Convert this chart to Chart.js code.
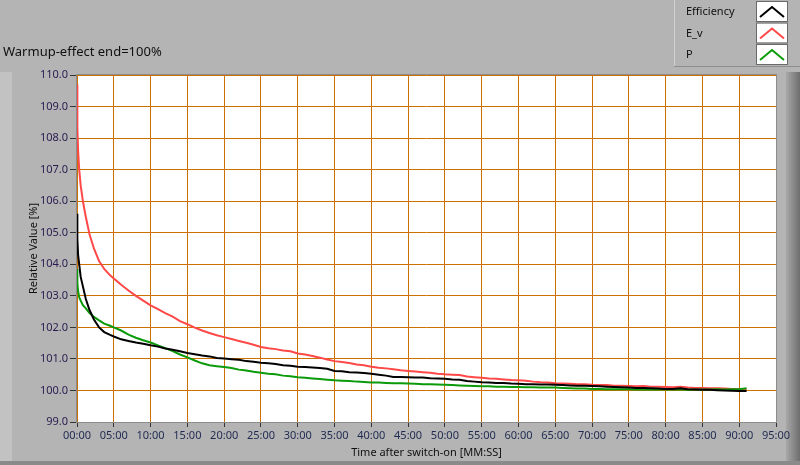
<!DOCTYPE html>
<html>
<head>
<meta charset="utf-8">
<script src="https://cdn.jsdelivr.net/npm/chart.js@4/dist/chart.umd.min.js"></script>
<style>
  html, body { margin: 0; padding: 0; background: #b4b4b4; }
  #wrap { width: 800px; height: 465px; }
</style>
</head>
<body>
<div id="wrap"><canvas id="warmup-chart" width="800" height="465"></canvas></div>
<script>
// time after switch-on, minutes
var minutes = [0, 0.05, 0.15, 0.3, 0.5, 0.8, 1.2, 1.7, 2.3, 3, 3.7, 4.5,
  5, 6, 7, 8, 9, 10, 11, 12, 13, 14, 15, 16, 17, 18, 19, 20, 21, 22, 23, 24,
  25, 26, 27, 28, 29, 30, 31, 32, 33, 34, 35, 36, 37, 38, 39, 40, 41, 42, 43, 44,
  45, 46, 47, 48, 49, 50, 51, 52, 53, 54, 55, 56, 57, 58, 59, 60, 61, 62, 63, 64,
  65, 66, 67, 68, 69, 70, 71, 72, 73, 74, 75, 76, 77, 78, 79, 80, 81, 82, 83, 84,
  85, 86, 87, 88, 89, 90, 91];

var efficiency = [105.6, 104.8, 104.3, 104.0, 103.6, 103.3, 102.9, 102.55, 102.25, 102.0, 101.85, 101.76,
  101.71, 101.62, 101.57, 101.52, 101.48, 101.43, 101.39, 101.33, 101.29, 101.24, 101.19, 101.15, 101.11, 101.08, 101.03, 101.01, 100.99, 100.97, 100.93, 100.91,
  100.88, 100.86, 100.84, 100.80, 100.78, 100.75, 100.74, 100.73, 100.71, 100.69, 100.62, 100.61, 100.58, 100.57, 100.55, 100.53, 100.50, 100.47, 100.43, 100.43,
  100.42, 100.41, 100.41, 100.39, 100.38, 100.37, 100.35, 100.34, 100.30, 100.28, 100.26, 100.25, 100.24, 100.24, 100.22, 100.21, 100.20, 100.20, 100.19, 100.19,
  100.18, 100.17, 100.16, 100.15, 100.15, 100.14, 100.13, 100.12, 100.11, 100.10, 100.09, 100.08, 100.08, 100.07, 100.06, 100.05, 100.05, 100.07, 100.04, 100.03,
  100.02, 100.02, 100.01, 100.00, 99.99, 99.98, 99.98];

var e_v = [109.7, 108.3, 107.6, 107.0, 106.5, 106.0, 105.5, 104.95, 104.5, 104.1, 103.85, 103.65,
  103.55, 103.35, 103.17, 103.0, 102.85, 102.7, 102.58, 102.45, 102.34, 102.2, 102.1, 101.99, 101.9, 101.82, 101.75, 101.69, 101.63, 101.57, 101.51, 101.45,
  101.38, 101.34, 101.31, 101.27, 101.24, 101.17, 101.14, 101.09, 101.04, 100.98, 100.93, 100.90, 100.87, 100.82, 100.80, 100.75, 100.72, 100.70, 100.67, 100.64,
  100.62, 100.60, 100.58, 100.56, 100.53, 100.51, 100.50, 100.49, 100.44, 100.42, 100.40, 100.38, 100.37, 100.35, 100.33, 100.32, 100.31, 100.28, 100.26, 100.25,
  100.23, 100.22, 100.21, 100.20, 100.20, 100.18, 100.17, 100.17, 100.15, 100.15, 100.14, 100.13, 100.14, 100.12, 100.12, 100.11, 100.10, 100.12, 100.09, 100.08,
  100.08, 100.07, 100.07, 100.06, 100.05, 100.05, 100.05];

var p = [103.85, 103.4, 103.15, 102.95, 102.85, 102.7, 102.6, 102.45, 102.33, 102.22, 102.12, 102.05,
  102.0, 101.9, 101.77, 101.67, 101.59, 101.52, 101.43, 101.34, 101.25, 101.14, 101.05, 100.95, 100.86, 100.80, 100.77, 100.74, 100.71, 100.66, 100.63, 100.59,
  100.56, 100.53, 100.51, 100.47, 100.45, 100.42, 100.40, 100.38, 100.36, 100.34, 100.32, 100.31, 100.30, 100.28, 100.27, 100.25, 100.25, 100.24, 100.23, 100.23,
  100.22, 100.21, 100.20, 100.20, 100.19, 100.18, 100.17, 100.16, 100.15, 100.14, 100.13, 100.13, 100.12, 100.12, 100.11, 100.11, 100.10, 100.10, 100.09, 100.09,
  100.09, 100.08, 100.07, 100.06, 100.06, 100.05, 100.05, 100.04, 100.04, 100.04, 100.04, 100.03, 100.03, 100.03, 100.04, 100.03, 100.03, 100.03, 100.02, 100.03,
  100.03, 100.03, 100.04, 100.03, 100.04, 100.04, 100.07];

var seriesNames = ['Efficiency', 'E_v', 'P'];
var seriesColors = ['#000000', '#ff4848', '#0a9a0a'];
var titleText = 'Warmup-effect end=100%';

function pts(vals) {
  return vals.map(function (v, i) { return { x: minutes[i], y: v }; });
}

function mmss(m) {
  var mm = Math.floor(m);
  var ss = Math.round((m - mm) * 60);
  return String(mm).padStart(2, '0') + ':' + String(ss).padStart(2, '0');
}

var FONT = '"Noto Sans", "Open Sans", sans-serif';
var GRID = '#cc7000';

// LabVIEW-ish panel: grey frame, white plot, title and boxed legend
var panel = {
  id: 'panel',
  beforeDraw: function (chart) {
    var c = chart.ctx, a = chart.chartArea;
    c.save();
    c.fillStyle = '#b4b4b4';
    c.fillRect(0, 0, 800, 465);
    c.fillStyle = '#c2c2c2';
    c.fillRect(0, 72, 12, 393);
    var g = c.createLinearGradient(786, 0, 800, 0);
    g.addColorStop(0, '#a8a8a8');
    g.addColorStop(1, '#6e6e6e');
    c.fillStyle = g;
    c.fillRect(786, 72, 14, 393);
    c.fillStyle = '#8a8a8a';
    c.fillRect(0, 461, 800, 4);
    c.fillStyle = '#ffffff';
    c.fillRect(a.left, a.top, a.right - a.left, a.bottom - a.top);
    c.restore();
  },
  afterDraw: function (chart) {
    var c = chart.ctx, a = chart.chartArea;
    c.save();
    c.strokeStyle = '#8c8c8c';
    c.lineWidth = 1;
    c.strokeRect(a.left - 0.5, a.top - 0.5, a.right - a.left + 1, a.bottom - a.top + 1);

    c.fillStyle = '#101010';
    c.font = '13px ' + FONT;
    c.textBaseline = 'middle';
    c.fillText(titleText, 3, 52);

    // legend box
    c.strokeStyle = '#d2d2d2';
    c.beginPath(); c.moveTo(674.5, 0); c.lineTo(674.5, 66); c.stroke();
    c.strokeStyle = '#8e8e8e';
    c.beginPath(); c.moveTo(674, 66.5); c.lineTo(800, 66.5); c.stroke();
    c.font = '11px ' + FONT;
    seriesNames.forEach(function (name, i) {
      var y = 12 + i * 21.5;
      c.fillStyle = '#101010';
      c.fillText(name, 686, y);
      c.fillStyle = '#ffffff';
      c.fillRect(757, y - 10, 30, 19);
      c.strokeStyle = '#6a6a6a';
      c.strokeRect(756.5, y - 10.5, 31, 20);
      c.strokeStyle = seriesColors[i];
      c.lineWidth = 2;
      c.beginPath();
      c.moveTo(760, y + 5); c.lineTo(772, y - 5); c.lineTo(784, y + 5);
      c.stroke();
      c.lineWidth = 1;
    });
    c.restore();
  }
};

var ctx = document.getElementById('warmup-chart').getContext('2d');
var chart = new Chart(ctx, {
  type: 'line',
  data: {
    datasets: [
      { label: seriesNames[0], data: pts(efficiency), borderColor: seriesColors[0], order: 0 },
      { label: seriesNames[1], data: pts(e_v), borderColor: seriesColors[1], order: 2 },
      { label: seriesNames[2], data: pts(p), borderColor: seriesColors[2], order: 1 }
    ]
  },
  options: {
    responsive: false,
    animation: false,
    parsing: false,
    layout: { padding: { top: 75, right: 24, left: 0, bottom: 0 } },
    elements: {
      point: { radius: 0 },
      line: { borderWidth: 2, tension: 0 }
    },
    scales: {
      x: {
        type: 'linear',
        min: 0,
        max: 95,
        afterFit: function (s) { s.height = 43; },
        grid: { color: GRID, tickColor: '#333333', tickLength: 5, lineWidth: 1 },
        border: { display: false },
        ticks: {
          stepSize: 5,
          padding: 2,
          maxRotation: 0,
          color: '#1e2a50',
          font: { family: FONT, size: 11 },
          callback: function (v) { return mmss(v); }
        },
        title: {
          display: true,
          text: 'Time after switch-on [MM:SS]',
          color: '#101010',
          font: { family: FONT, size: 11 },
          padding: { top: 0, bottom: 6 }
        }
      },
      y: {
        min: 99,
        max: 110,
        afterFit: function (s) { s.width = 77; },
        grid: { color: GRID, tickColor: '#333333', tickLength: 7, lineWidth: 1 },
        border: { display: false },
        ticks: {
          stepSize: 1,
          padding: 2,
          color: '#2a1a50',
          font: { family: FONT, size: 11 },
          callback: function (v) { return v.toFixed(1); }
        },
        title: {
          display: true,
          text: 'Relative Value [%]',
          color: '#101010',
          font: { family: FONT, size: 11 },
          padding: { top: 27, bottom: 0 }
        }
      }
    },
    plugins: {
      legend: { display: false },
      tooltip: { enabled: false }
    }
  },
  plugins: [panel]
});
</script>
</body>
</html>
